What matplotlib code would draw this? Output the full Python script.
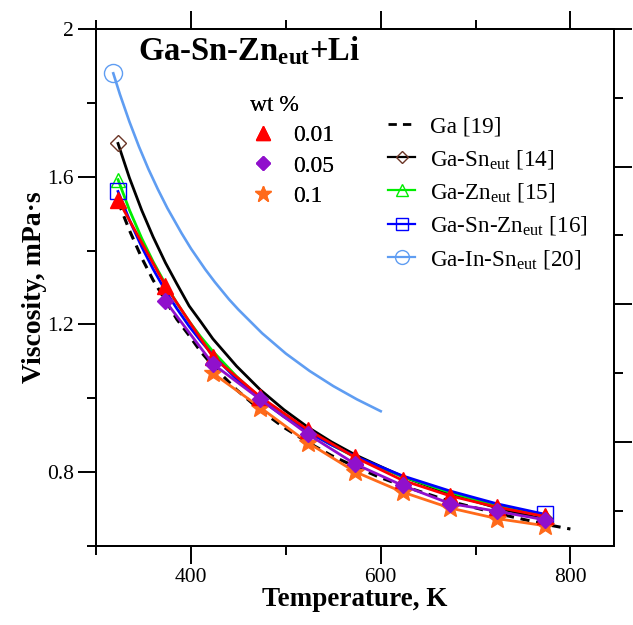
import matplotlib.pyplot as plt
from matplotlib.lines import Line2D
from matplotlib.ticker import FixedLocator, NullFormatter

plt.rcParams['font.family'] = ['Liberation Serif', 'DejaVu Serif']
plt.rcParams['mathtext.fontset'] = 'custom'
plt.rcParams['mathtext.rm'] = 'Liberation Serif'
plt.rcParams['mathtext.bf'] = 'Liberation Serif:bold'
plt.rcParams['mathtext.it'] = 'Liberation Serif:italic'

t_001 = [323, 373, 423, 473, 523, 573, 623, 673, 723, 773]
eta_001 = [1.538, 1.305, 1.112, 1.004, 0.915, 0.840, 0.778, 0.736, 0.705, 0.680]
t_005 = [373, 423, 473, 523, 573, 623, 673, 723, 773]
eta_005 = [1.263, 1.093, 0.997, 0.903, 0.822, 0.764, 0.715, 0.694, 0.671]
t_01 = [423, 473, 523, 573, 623, 673, 723, 773]
eta_01 = [1.068, 0.975, 0.880, 0.801, 0.746, 0.703, 0.674, 0.655]

# literature curves
t_ga = [323, 335, 348, 360, 373, 385, 398, 410, 423, 448, 473, 498, 523, 548, 573,
        598, 623, 673, 723, 773, 800]
eta_ga = [1.533, 1.455, 1.380, 1.320, 1.265, 1.214, 1.170, 1.127, 1.088, 1.023, 0.968,
          0.921, 0.881, 0.845, 0.815, 0.787, 0.763, 0.721, 0.688, 0.659, 0.646]
t_ref = [323, 335, 348, 360, 373, 385, 398, 410, 423, 448, 473, 498, 523, 548, 573,
         623, 673, 723, 773]
eta_gasn = [1.690, 1.597, 1.509, 1.437, 1.367, 1.310, 1.250, 1.208, 1.161, 1.087, 1.023,
            0.969, 0.922, 0.882, 0.847, 0.788, 0.741, 0.703, 0.672]
eta_gazn = [1.592, 1.510, 1.433, 1.370, 1.309, 1.258, 1.208, 1.167, 1.127, 1.059, 1.001,
            0.952, 0.910, 0.874, 0.841, 0.788, 0.745, 0.709, 0.680]
eta_gasnzn = [1.560, 1.483, 1.410, 1.350, 1.291, 1.243, 1.195, 1.156, 1.117, 1.052, 0.997,
              0.950, 0.909, 0.874, 0.843, 0.790, 0.749, 0.714, 0.686]
t_gainsn = [318, 325, 335, 345, 355, 365, 375, 390, 400, 415, 425, 440, 450, 475, 500,
            525, 550, 575, 600]
eta_gainsn = [1.880, 1.823, 1.749, 1.682, 1.621, 1.566, 1.515, 1.447, 1.405, 1.349, 1.315,
              1.268, 1.240, 1.176, 1.121, 1.074, 1.033, 0.997, 0.965]

wt_labels = ['0.01', '0.05', '0.1']
ref_labels = ['Ga [19]', r'Ga-Sn$_{\rm eut}$ [14]', r'Ga-Zn$_{\rm eut}$ [15]',
              r'Ga-Sn-Zn$_{\rm eut}$ [16]', r'Ga-In-Sn$_{\rm eut}$ [20]']

red = '#ff0000'
purple = '#9010cc'
orange = '#ff6a1a'
green = '#00ee00'
blue = '#0000ff'
lblue = '#5f9df2'
brown = '#6b3526'

fig = plt.figure(figsize=(6.33, 6.25), dpi=100)
ax = fig.add_axes([0.152, 0.1264, 0.818, 0.8272])

# literature curves
ax.plot(t_gainsn, eta_gainsn, color=lblue, lw=1.9, marker='o', ms=13, mfc='none',
        mec=lblue, mew=1, markevery=[0])
ax.plot(t_ref, eta_gasn, color='black', lw=2, marker='D', ms=8.5, mfc='none',
        mec=brown, mew=1, markevery=[0, -1])
ax.plot(t_ref, eta_gazn, color=green, lw=2, marker='^', ms=10, mfc='none',
        mec=green, mew=1, markevery=[0, -1])
ax.plot(t_ref, eta_gasnzn, color=blue, lw=2, marker='s', ms=11, mfc='none',
        mec=blue, mew=1, markevery=[0, -1])
ax.plot(t_ga, eta_ga, color='black', lw=2.2, ls=(0, (3, 2.2)))

# this work
ax.plot(t_01, eta_01, color=orange, lw=2, marker='*', ms=14, mec=orange)
ax.plot(t_001, eta_001, color=red, lw=2, marker='^', ms=12)
ax.plot(t_005, eta_005, color=purple, lw=2, marker='D', ms=8)

ax.set_xlim(300, 846)
ax.set_ylim(0.6, 2.0)

ax.xaxis.set_major_locator(FixedLocator([400, 600, 800]))
ax.xaxis.set_minor_locator(FixedLocator([300, 500, 700]))
ax.yaxis.set_major_locator(FixedLocator([0.8, 1.2, 1.6, 2.0]))
ax.yaxis.set_minor_locator(FixedLocator([0.6, 1.0, 1.4, 1.8]))
ax.set_yticklabels(['0.8', '1.2', '1.6', '2'])
ax.tick_params(which='both', direction='out', width=1.4, labelsize=15.5, colors='black',
               top=True, right=False)
ax.tick_params(which='major', length=13, pad=3)
ax.tick_params(which='minor', length=6.5)
for s in ax.spines.values():
    s.set_linewidth(1.4)

# right-hand axis: ticks only
ax2 = ax.twinx()
ax2.set_ylim(-0.757, 3.0)
ax2.yaxis.set_major_locator(FixedLocator([0, 1, 2, 3]))
ax2.yaxis.set_minor_locator(FixedLocator([-0.5, 0.5, 1.5, 2.5]))
ax2.yaxis.set_major_formatter(NullFormatter())
ax2.tick_params(which='both', direction='out', width=1.4)
ax2.tick_params(which='major', length=13)
ax2.tick_params(which='minor', length=6.5)
for s in ax2.spines.values():
    s.set_linewidth(1.4)

ax.set_xlabel('Temperature, K', fontsize=19.5, fontweight='bold', labelpad=0)
ax.set_ylabel('Viscosity, mPa·s', fontsize=20, fontweight='bold', labelpad=0)

ax.text(0.081, 0.940, r'Ga-Sn-Zn$_{\mathbf{eut}}$+Li', transform=ax.transAxes,
        fontsize=23.5, fontweight='bold', ha='left', va='baseline')

# legend for the Li content
h1 = [Line2D([], [], ls='none', marker='^', ms=10.5, color=red),
      Line2D([], [], ls='none', marker='D', ms=7.5, color=purple),
      Line2D([], [], ls='none', marker='*', ms=12, color=orange)]
leg1 = ax.legend(h1, wt_labels, title='wt %', loc='upper left',
                 bbox_to_anchor=(0.297, 0.872), frameon=False, fontsize=17,
                 title_fontsize=17, handlelength=1.1, handletextpad=0.72,
                 labelspacing=0.37, borderpad=0, borderaxespad=0)
leg1._legend_box.align = 'left'
ax.add_artist(leg1)

h2 = [Line2D([], [], color='black', lw=2, ls=(0, (3, 2.2))),
      Line2D([], [], color='black', lw=1.6, marker='D', ms=6.5, mfc='none', mec=brown),
      Line2D([], [], color=green, lw=1.6, marker='^', ms=9, mfc='none', mec=green),
      Line2D([], [], color=blue, lw=1.6, marker='s', ms=9, mfc='none', mec=blue),
      Line2D([], [], color=lblue, lw=1.6, marker='o', ms=10, mfc='none', mec=lblue)]
ax2.legend(h2, ref_labels, loc='upper left', bbox_to_anchor=(0.564, 0.832),
           frameon=False, fontsize=16.7, handlelength=1.16, handletextpad=0.65,
           labelspacing=0.45, borderpad=0, borderaxespad=0)

fig.savefig('out.png', dpi=100)
